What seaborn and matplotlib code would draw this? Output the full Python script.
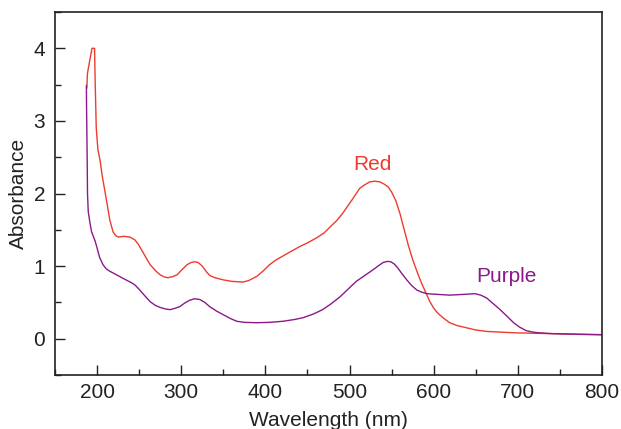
import numpy as np
import pandas as pd
import matplotlib
matplotlib.use("Agg")
import matplotlib.pyplot as plt
import seaborn as sns
from matplotlib.ticker import MultipleLocator

red_wl = [187.8, 188.5, 190, 192, 194, 197, 197.6, 199, 201, 203.5, 206, 209, 212, 215, 219, 222,
          225, 232, 239, 245, 249, 253, 258, 263, 270, 275, 280, 284, 290, 295, 300, 307, 312, 316,
          320, 325, 330, 334, 340, 350, 360, 373, 380, 390, 398, 405, 412, 421, 430, 441, 450, 461,
          470, 477, 485, 492, 498, 504, 512, 518, 524, 530, 536, 541, 546, 550, 555, 560, 565, 570,
          575, 580, 585, 590, 595, 600, 605, 612, 619, 628, 639, 650, 663, 680, 699, 738, 770, 800]
red_abs = [3.45, 3.65, 3.75, 3.88, 4.0, 4.0, 3.6, 2.9, 2.6, 2.46, 2.25, 2.05, 1.85, 1.64, 1.47, 1.42,
           1.40, 1.41, 1.40, 1.36, 1.30, 1.22, 1.12, 1.02, 0.93, 0.88, 0.85, 0.84, 0.855, 0.88, 0.94, 1.02, 1.05, 1.06,
           1.05, 1.00, 0.92, 0.87, 0.84, 0.81, 0.79, 0.78, 0.80, 0.86, 0.94, 1.02, 1.08, 1.14, 1.20, 1.27, 1.32, 1.39,
           1.46, 1.54, 1.63, 1.73, 1.83, 1.93, 2.07, 2.12, 2.16, 2.17, 2.16, 2.13, 2.09, 2.02, 1.90, 1.72, 1.50, 1.28,
           1.09, 0.93, 0.78, 0.65, 0.52, 0.42, 0.35, 0.28, 0.22, 0.18, 0.15, 0.12, 0.10, 0.09, 0.08, 0.07, 0.06, 0.055]

purple_wl = [187.3, 187.4, 188.2, 188.6, 189.5, 191.6, 193.5, 195.5, 197.5, 199.5, 203, 207, 211, 215,
             223, 231, 236, 241, 245, 250, 256, 263, 269, 275, 281, 287, 293, 298, 304, 310, 316, 322,
             328, 334, 342, 350, 358, 366, 375, 390, 405, 421, 435, 445, 457, 468, 478, 489, 498, 508,
             518, 528, 535, 540, 545, 549, 553, 557, 562, 568, 574, 580, 586, 592, 605, 619, 635, 649,
             656, 663, 671, 679, 687, 695, 702, 710, 718, 726, 740, 758, 800]
purple_abs = [3.49, 3.26, 2.5, 2.0, 1.75, 1.59, 1.47, 1.41, 1.35, 1.27, 1.12, 1.02, 0.96, 0.93,
              0.88, 0.83, 0.80, 0.77, 0.74, 0.68, 0.60, 0.51, 0.46, 0.43, 0.41, 0.40, 0.42, 0.44, 0.49, 0.53, 0.55, 0.54,
              0.50, 0.44, 0.38, 0.33, 0.28, 0.24, 0.225, 0.22, 0.225, 0.24, 0.265, 0.29, 0.34, 0.40, 0.48, 0.58, 0.68, 0.79,
              0.87, 0.95, 1.01, 1.05, 1.065, 1.06, 1.03, 0.98, 0.90, 0.81, 0.73, 0.67, 0.64, 0.62, 0.61, 0.60, 0.61, 0.62,
              0.60, 0.56, 0.48, 0.40, 0.31, 0.22, 0.16, 0.11, 0.09, 0.08, 0.07, 0.065, 0.055]

series_names = ["Red", "Purple"]
colors = {"Red": "#EE3B2F", "Purple": "#8A1A8A"}

df = pd.concat([
    pd.DataFrame({"Wavelength": red_wl, "Absorbance": red_abs, "Sample": "Red"}),
    pd.DataFrame({"Wavelength": purple_wl, "Absorbance": purple_abs, "Sample": "Purple"}),
])

sns.set_style("white")
plt.rcParams['font.family'] = ['Liberation Sans', 'DejaVu Sans']

fig = plt.figure(figsize=(6.21, 4.29), dpi=100)
ax = fig.add_axes([0.0886, 0.1259, 0.9694 - 0.0886, 0.972 - 0.1259])

for name in series_names:
    sub = df[df["Sample"] == name]
    sns.lineplot(data=sub, x="Wavelength", y="Absorbance", color=colors[name], sort=False,
                 estimator=None, legend=False, ax=ax, linewidth=1.0)

ax.set_xlim(150, 800)
ax.set_ylim(-0.5, 4.5)
ax.xaxis.set_major_locator(MultipleLocator(100))
ax.xaxis.set_minor_locator(MultipleLocator(50))
ax.yaxis.set_major_locator(MultipleLocator(1))
ax.yaxis.set_minor_locator(MultipleLocator(0.5))
ax.tick_params(axis="both", which="both", direction="in", labelsize=15, colors="#222222",
               top=False, right=False, bottom=True, left=True)
ax.tick_params(axis="x", which="major", length=7, width=1, pad=6)
ax.tick_params(axis="y", which="major", length=7, width=1, pad=7)
ax.tick_params(axis="both", which="minor", length=4, width=1)
for s in ax.spines.values():
    s.set_color("#222222")
    s.set_linewidth(1.2)
ax.set_xlabel("Wavelength (nm)", fontsize=15, color="#222222", labelpad=6)
ax.set_ylabel("Absorbance", fontsize=15, color="#222222", labelpad=4)

ax.text(527, 2.40, "Red", color=colors["Red"], fontsize=15, ha="center", va="center")
ax.text(687, 0.86, "Purple", color=colors["Purple"], fontsize=15, ha="center", va="center")

fig.savefig("out.png", dpi=100)
